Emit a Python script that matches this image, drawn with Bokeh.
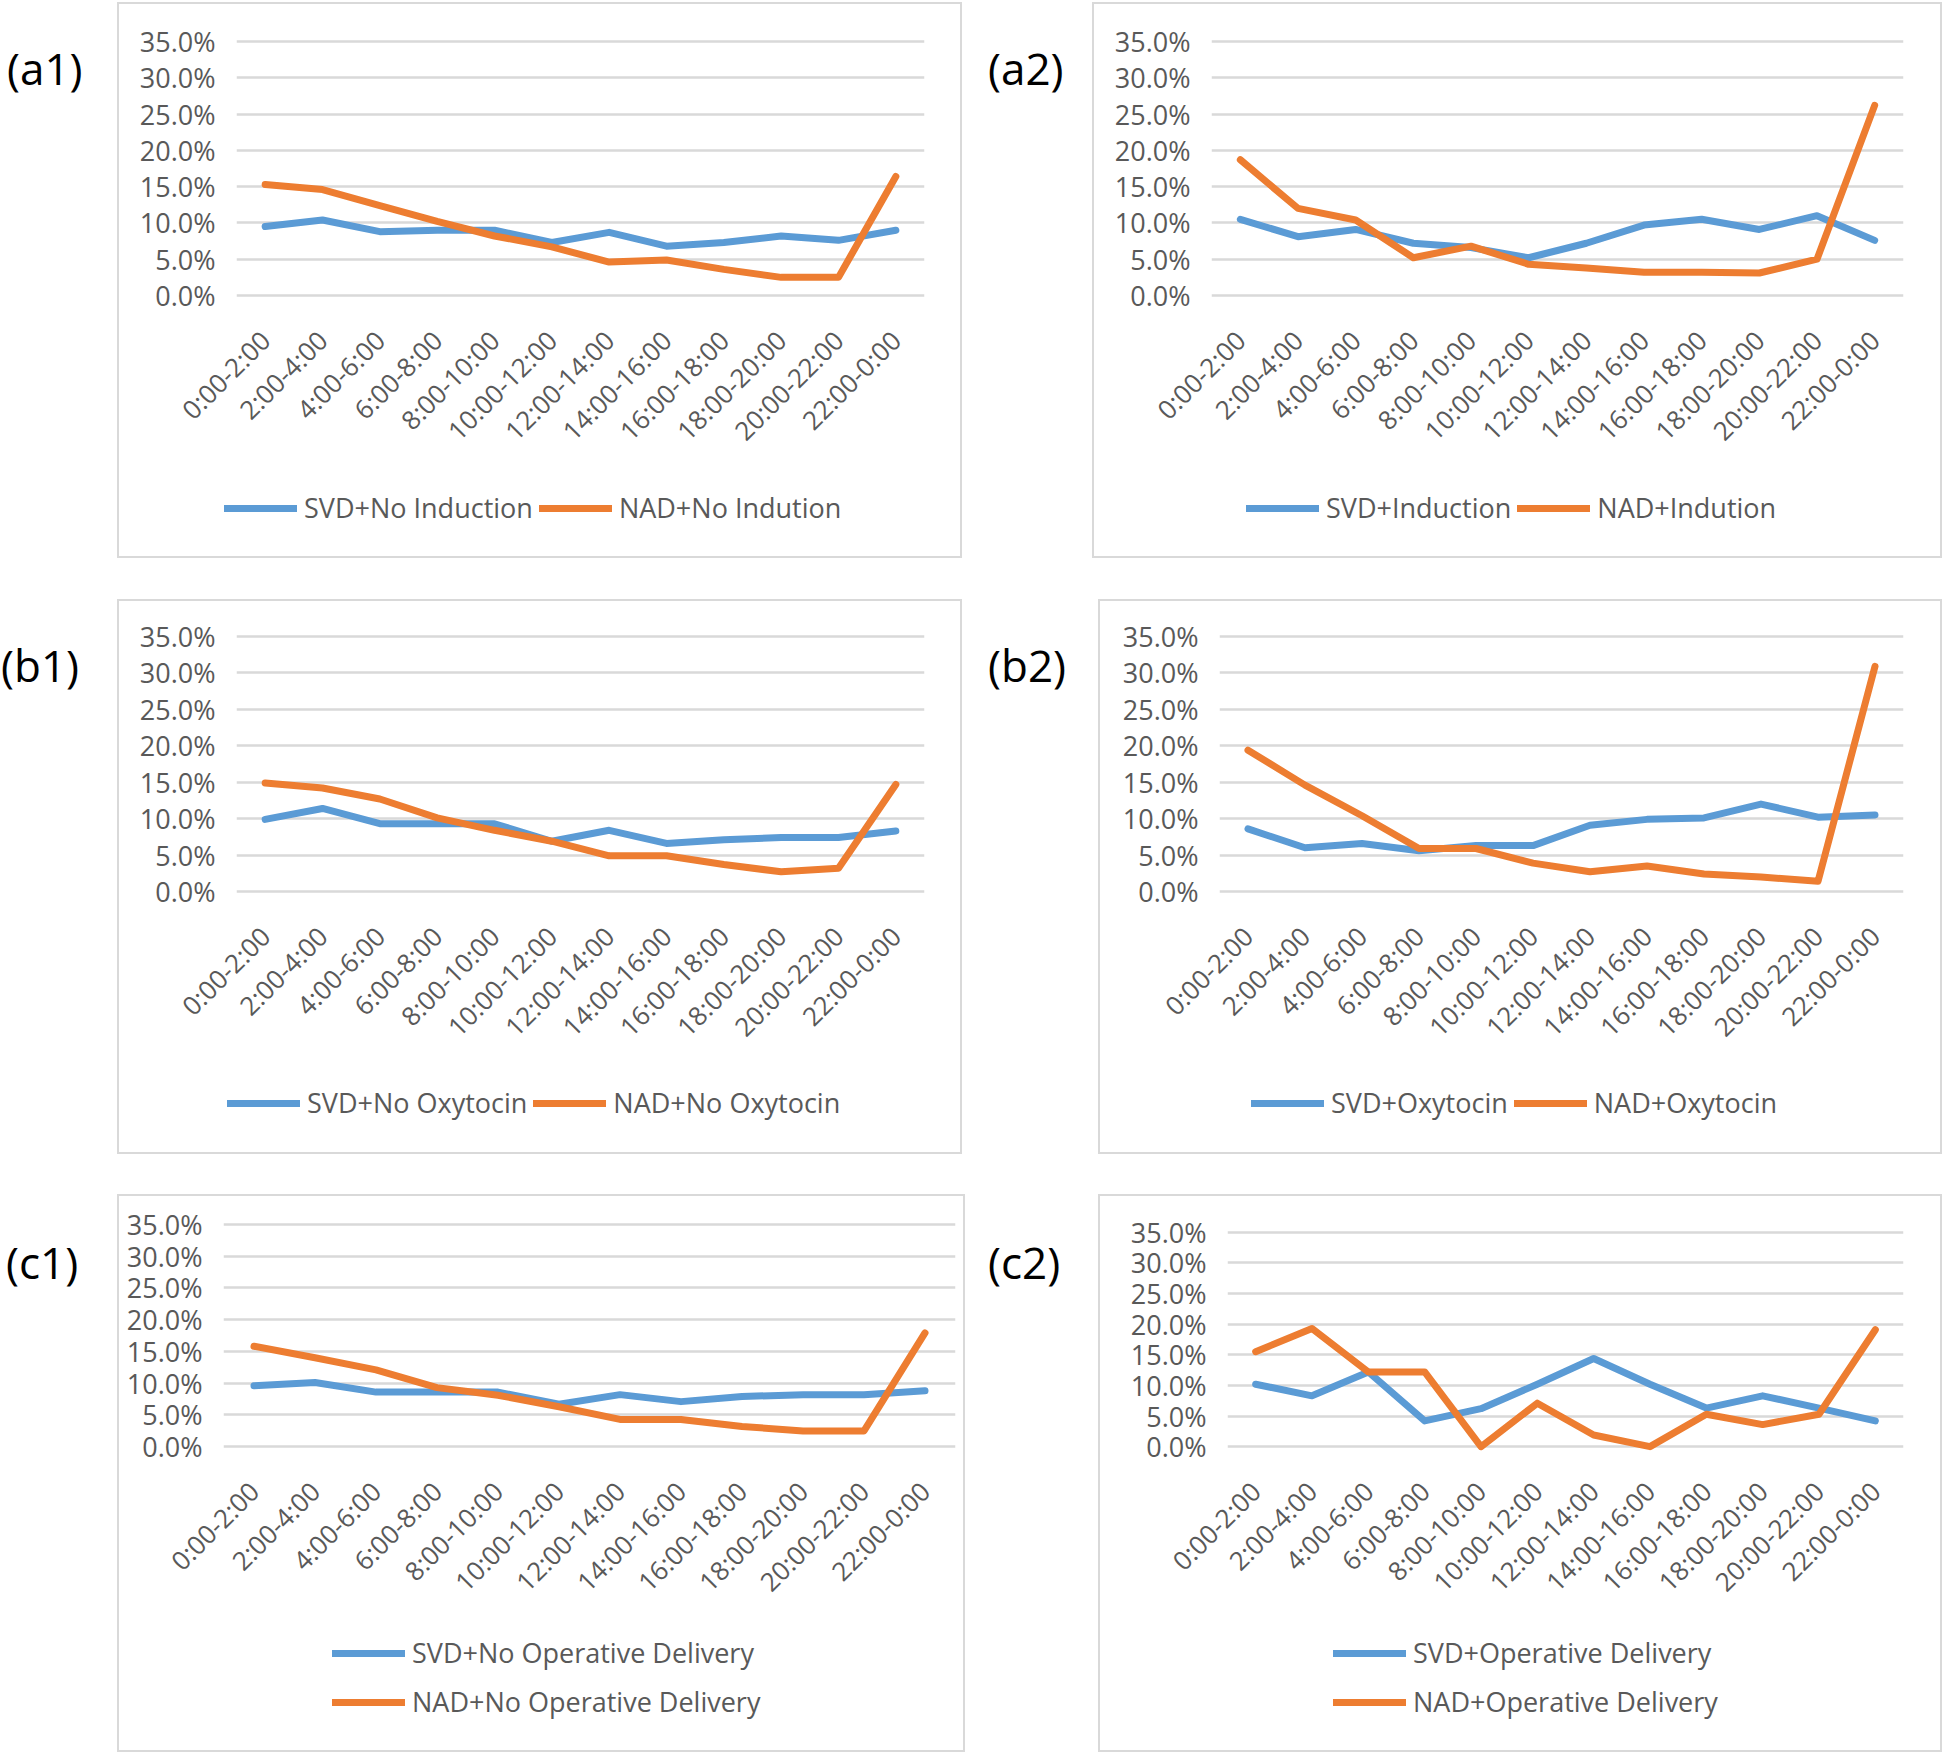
import math
from bokeh.plotting import figure
from bokeh.models import (Range1d, FixedTicker, PrintfTickFormatter, Legend, LegendItem,
                          Div, Spacer, ColumnDataSource)
from bokeh.layouts import row, column
from bokeh.embed import file_html
from bokeh.resources import INLINE

categories = ["0:00-2:00", "2:00-4:00", "4:00-6:00", "6:00-8:00", "8:00-10:00", "10:00-12:00",
              "12:00-14:00", "14:00-16:00", "16:00-18:00", "18:00-20:00", "20:00-22:00", "22:00-0:00"]
y_ticks = [0, 5, 10, 15, 20, 25, 30, 35]

svd_no_induction = [9.5, 10.4, 8.8, 9.0, 9.0, 7.3, 8.7, 6.8, 7.3, 8.2, 7.6, 9.0]
nad_no_induction = [15.3, 14.6, 12.4, 10.2, 8.2, 6.7, 4.6, 4.9, 3.6, 2.5, 2.5, 16.4]
svd_induction = [10.5, 8.1, 9.1, 7.2, 6.6, 5.2, 7.2, 9.7, 10.5, 9.1, 11.0, 7.6]
nad_induction = [18.7, 12.0, 10.4, 5.2, 6.8, 4.3, 3.8, 3.2, 3.2, 3.1, 5.0, 26.2]
svd_no_oxytocin = [9.9, 11.4, 9.3, 9.3, 9.3, 6.9, 8.4, 6.6, 7.1, 7.4, 7.4, 8.3]
nad_no_oxytocin = [14.9, 14.2, 12.7, 10.1, 8.4, 6.9, 4.9, 4.9, 3.7, 2.7, 3.2, 14.7]
svd_oxytocin = [8.6, 6.0, 6.6, 5.6, 6.3, 6.3, 9.1, 9.9, 10.1, 12.0, 10.2, 10.5]
nad_oxytocin = [19.4, 14.6, 10.4, 5.9, 5.9, 3.9, 2.7, 3.5, 2.4, 2.0, 1.4, 30.9]
svd_no_operative = [9.6, 10.1, 8.6, 8.6, 8.6, 6.7, 8.2, 7.1, 7.9, 8.2, 8.2, 8.8]
nad_no_operative = [15.8, 14.0, 12.1, 9.3, 8.1, 6.3, 4.3, 4.3, 3.2, 2.5, 2.5, 17.9]
svd_operative = [10.2, 8.3, 12.2, 4.2, 6.2, 10.2, 14.4, 10.2, 6.3, 8.3, 6.3, 4.2]
nad_operative = [15.5, 19.3, 12.2, 12.2, 0.0, 7.1, 1.9, 0.0, 5.3, 3.6, 5.3, 19.1]

BLUE = "#5B9BD5"
ORANGE = "#ED7D31"
TEXT = "#595959"
FONT = "Open Sans"
LW = 7
ROW_H = 36


def no_frame_align(fig):
    try:
        fig.frame_align = False
    except Exception:
        pass


def make_panel(svd, nad, svd_label, nad_label, W, H, fl, fr, gt, gb, leg_x, leg_rows, vertical):
    pad = 5
    ppu = (gb - gt) / 35.0
    pu = pad / ppu
    leg_top_local = leg_rows[0] - ROW_H / 2 + gb          # legend top in box coords
    split = int(leg_top_local - 22)
    chart_h = split
    leg_h = H - split

    p = figure(x_range=categories, y_range=Range1d(-pu, 35 + pu), width=W, height=chart_h,
               output_backend="svg", toolbar_location=None, title=None,
               min_border_left=fl, min_border_right=W - fr,
               min_border_top=gt - pad, min_border_bottom=chart_h - gb - pad)
    p.background_fill_alpha = 0
    p.border_fill_alpha = 0
    p.outline_line_color = None
    p.margin = 0
    no_frame_align(p)

    src = ColumnDataSource(dict(cat=categories, svd=svd, nad=nad))
    p.line("cat", "svd", source=src, color=BLUE, line_width=LW, line_join="round", line_cap="round")
    p.line("cat", "nad", source=src, color=ORANGE, line_width=LW, line_join="round", line_cap="round")

    p.yaxis.ticker = FixedTicker(ticks=y_ticks)
    p.yaxis.formatter = PrintfTickFormatter(format="%.1f%%")
    for ax in (p.xaxis[0], p.yaxis[0]):
        ax.axis_line_color = None
        ax.major_tick_line_color = None
        ax.minor_tick_line_color = None
        ax.major_tick_out = 0
        ax.major_tick_in = 0
        ax.major_label_text_font = FONT
        ax.major_label_text_color = TEXT
    p.xaxis.major_label_text_font_size = "26px"
    p.yaxis.major_label_text_font_size = "27px"
    p.yaxis.major_label_standoff = 21
    p.xaxis.major_label_orientation = math.pi / 4
    p.xaxis.major_label_standoff = 35
    p.xgrid.grid_line_color = None
    p.ygrid.grid_line_color = "#d9d9d9"
    p.ygrid.grid_line_width = 2.5

    # legend strip: same series, drawn off-range so only the legend shows
    q = figure(x_range=categories, y_range=Range1d(1000, 1001), width=W, height=leg_h,
               output_backend="svg", toolbar_location=None, title=None,
               x_axis_type=None, y_axis_type=None, min_border=0)
    q.background_fill_alpha = 0
    q.border_fill_alpha = 0
    q.outline_line_color = None
    q.xgrid.grid_line_color = None
    q.ygrid.grid_line_color = None
    q.margin = 0
    no_frame_align(q)
    l1 = q.line("cat", "svd", source=src, color=BLUE, line_width=LW, line_cap="round")
    l2 = q.line("cat", "nad", source=src, color=ORANGE, line_width=LW, line_cap="round")

    spacing = 12 if vertical else 6
    n_rows = 2 if vertical else 1
    legend_h = n_rows * ROW_H + (n_rows - 1) * spacing
    top_in_strip = leg_top_local - split
    vy = leg_h - top_in_strip - legend_h
    legend = Legend(items=[LegendItem(label=svd_label, renderers=[l1]),
                           LegendItem(label=nad_label, renderers=[l2])],
                    location=(leg_x, vy),
                    orientation="vertical" if vertical else "horizontal",
                    border_line_color=None, background_fill_alpha=0,
                    padding=0, margin=0, spacing=spacing, label_standoff=7,
                    glyph_width=73, glyph_height=ROW_H, label_height=ROW_H,
                    label_text_font=FONT, label_text_font_size="27px",
                    label_text_color=TEXT)
    q.add_layout(legend, "center")

    return column(p, row(q, margin=0, spacing=0), margin=0, spacing=0,
                  styles={"outline": "2px solid #d9d9d9", "outline-offset": "-2px"})


def label_div(text, w, h, left, top):
    html = (f'<div style="font-family:\'Open Sans\';font-size:44px;line-height:44px;'
            f'color:#000;margin-left:{left}px;margin-top:{top}px;white-space:nowrap;">{text}</div>')
    return Div(text=html, width=w, height=h, margin=0)


# box geometry (pixels): width, height, frame left/right, gridline 35%/0%, legend x, legend row centres
pa1 = make_panel(svd_no_induction, nad_no_induction, "SVD+No Induction", "NAD+No Indution",
                 845, 556, 119, 807, 39, 293, 107, [213], False)
pa2 = make_panel(svd_induction, nad_induction, "SVD+Induction", "NAD+Indution",
                 850, 556, 119, 811, 39, 293, 154, [213], False)
pb1 = make_panel(svd_no_oxytocin, nad_no_oxytocin, "SVD+No Oxytocin", "NAD+No Oxytocin",
                 845, 555, 119, 807, 37, 292, 110, [212], False)
pb2 = make_panel(svd_oxytocin, nad_oxytocin, "SVD+Oxytocin", "NAD+Oxytocin",
                 844, 555, 121, 805, 37, 292, 153, [212], False)
pc1 = make_panel(svd_no_operative, nad_no_operative, "SVD+No Operative Delivery", "NAD+No Operative Delivery",
                 848, 558, 106, 838, 30, 266, 215, [194, 242], True)
pc2 = make_panel(svd_operative, nad_operative, "SVD+Operative Delivery", "NAD+Operative Delivery",
                 844, 558, 129, 805, 38, 259, 235, [201, 249], True)

row_a = row(label_div("(a1)", 117, 556, 7, 44), pa1, label_div("(a2)", 130, 556, 26, 44), pa2,
            margin=0, spacing=0)
row_b = row(label_div("(b1)", 117, 555, 1, 44), pb1, label_div("(b2)", 136, 555, 26, 44), pb2,
            margin=0, spacing=0)
row_c = row(label_div("(c1)", 117, 558, 6, 46), pc1, label_div("(c2)", 133, 558, 23, 46), pc2,
            margin=0, spacing=0)

layout = column(Spacer(height=2, margin=0), row_a, Spacer(height=41, margin=0), row_b,
                Spacer(height=40, margin=0), row_c, margin=0, spacing=0)

open("out.html", "w").write(file_html(layout, INLINE))
